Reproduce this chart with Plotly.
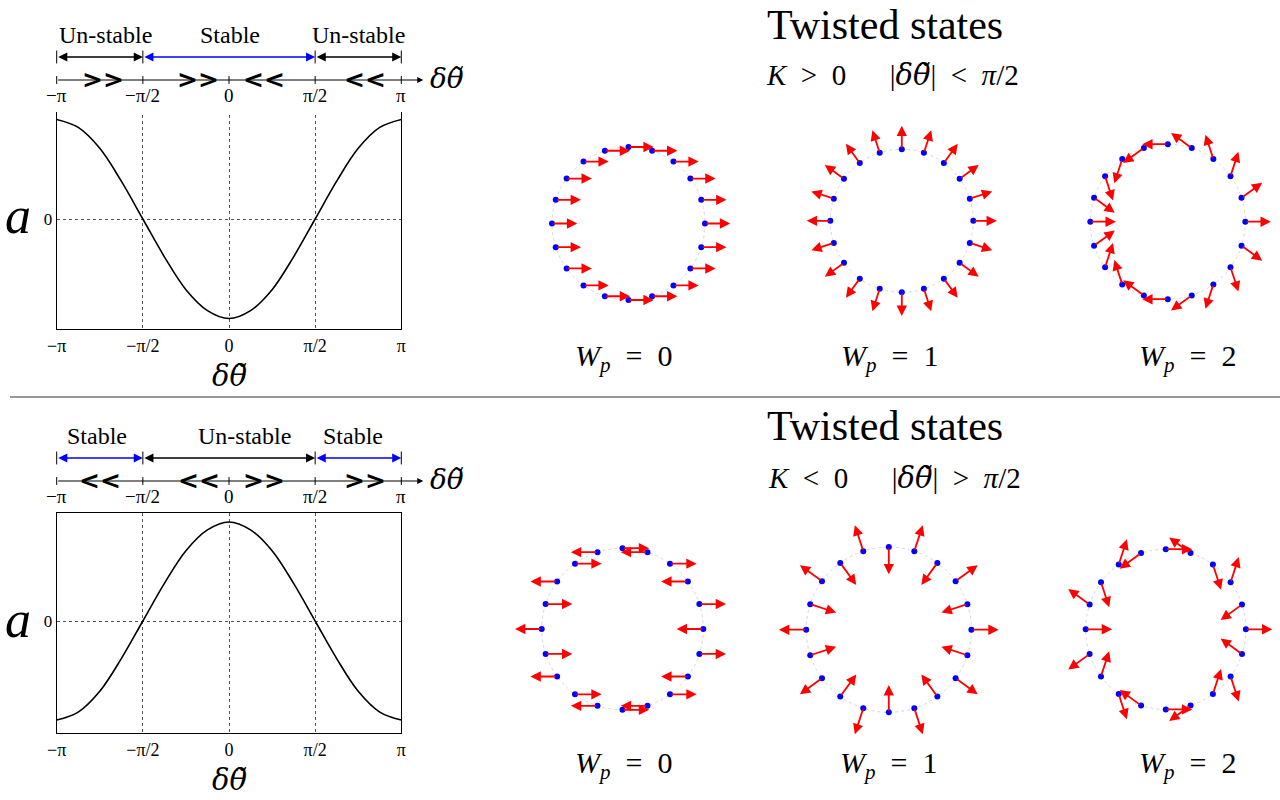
import math
import plotly.graph_objects as go

PI = math.pi

# ---------------- data ----------------
tick_vals = [-PI, -PI / 2, 0.0, PI / 2, PI]
tick_text = ["−π", "−π/2", "0", "π/2", "π"]

curve_dtheta = [-PI, -7 * PI / 8, -3 * PI / 4, -5 * PI / 8, -PI / 2, -3 * PI / 8, -PI / 4, -PI / 8, 0.0,
                PI / 8, PI / 4, 3 * PI / 8, PI / 2, 5 * PI / 8, 3 * PI / 4, 7 * PI / 8, PI]
a_top = [1.00, 0.92, 0.71, 0.38, 0.00, -0.38, -0.71, -0.92, -1.00,
         -0.92, -0.71, -0.38, 0.00, 0.38, 0.71, 0.92, 1.00]
a_bottom = [-1.00, -0.92, -0.71, -0.38, 0.00, 0.38, 0.71, 0.92, 1.00,
            0.92, 0.71, 0.38, 0.00, -0.38, -0.71, -0.92, -1.00]

region_bounds = [(-PI, -PI / 2), (-PI / 2, PI / 2), (PI / 2, PI)]
regions_top = ["Un-stable", "Stable", "Un-stable"]
regions_top_color = ["black", "blue", "black"]
regions_bottom = ["Stable", "Un-stable", "Stable"]
regions_bottom_color = ["blue", "black", "blue"]

flow_top = [">>", ">>", "<<", "<<"]
flow_bottom = ["<<", "<<", ">>", ">>"]

# oscillator positions on the ring (degrees)
osc_pos_deg = [0, 18, 36, 54, 72, 90, 108, 126, 144, 162,
               180, 198, 216, 234, 252, 270, 288, 306, 324, 342]
# phase (arrow direction, degrees) of each oscillator
phase_top_w0 = [0, 0, 0, 0, 0, 0, 0, 0, 0, 0,
                0, 0, 0, 0, 0, 0, 0, 0, 0, 0]
phase_top_w1 = [0, 18, 36, 54, 72, 90, 108, 126, 144, 162,
                180, 198, 216, 234, 252, 270, 288, 306, 324, 342]
phase_top_w2 = [0, 36, 72, 108, 144, 180, 216, 252, 288, 324,
                0, 36, 72, 108, 144, 180, 216, 252, 288, 324]
phase_bot_w0 = [180, 0, 180, 0, 180, 0, 180, 0, 180, 0,
                180, 0, 180, 0, 180, 0, 180, 0, 180, 0]
phase_bot_w1 = [0, 198, 36, 234, 72, 270, 108, 306, 144, 342,
                180, 18, 216, 54, 252, 90, 288, 126, 324, 162]
phase_bot_w2 = [0, 216, 72, 288, 144, 0, 216, 72, 288, 144,
                0, 216, 72, 288, 144, 0, 216, 72, 288, 144]
winding_labels = ["0", "1", "2"]

# ---------------- layout helpers ----------------
W, H = 1280, 800
SERIF = "Liberation Serif"
MATH = "DejaVu Serif"
DTH = "<i>δθ\u0303</i>"
EN = "\u2002"


def xd(px):
    return px / W


def yd(px):
    return 1 - px / H


fig = go.Figure()
layout = dict(width=W, height=H, margin=dict(l=0, r=0, t=0, b=0, pad=0, autoexpand=False),
              paper_bgcolor="white", plot_bgcolor="white", showlegend=False,
              font=dict(family=SERIF, color="black"))
annotations = []
shapes = []


def paper_text(xpx, ypx, text, size, family=SERIF, yanchor="middle"):
    annotations.append(dict(x=xd(xpx), y=yd(ypx), xref="paper", yref="paper", text=text,
                            showarrow=False, xanchor="center", yanchor=yanchor,
                            font=dict(family=family, size=size, color="black")))


BOX_L, BOX_R = 56.7, 401.3
S = (BOX_R - BOX_L) / (2 * PI)  # px per radian
CX0 = (BOX_L + BOX_R) / 2


def main_panel(idx, top_px, bot_px, yrange, a_vals):
    xa, ya = "xaxis%d" % idx, "yaxis%d" % idx
    layout[xa] = dict(domain=[xd(BOX_L), xd(BOX_R)], range=[-PI, PI], anchor="y%d" % idx,
                      tickvals=tick_vals, ticktext=tick_text, ticks="", automargin=False,
                      tickfont=dict(family=SERIF, size=18), showgrid=True,
                      gridcolor="#555", griddash="dot", gridwidth=1, zeroline=False,
                      showline=True, mirror=True, linecolor="black", linewidth=1)
    layout[ya] = dict(domain=[yd(bot_px), yd(top_px)], range=yrange, anchor="x%d" % idx,
                      tickvals=[0], ticktext=["0"], ticks="", automargin=False,
                      tickfont=dict(family=SERIF, size=17), showgrid=True,
                      gridcolor="#555", griddash="dot", gridwidth=1, zeroline=False,
                      showline=True, mirror=True, linecolor="black", linewidth=1)
    fig.add_trace(go.Scatter(x=curve_dtheta, y=a_vals, mode="lines",
                             line=dict(color="black", width=1.6, shape="spline", smoothing=1.0),
                             xaxis="x%d" % idx, yaxis="y%d" % idx, hoverinfo="skip"))
    mid = (top_px + bot_px) / 2
    paper_text(18, mid - 4, "<i>a</i>", 52)
    paper_text(CX0, bot_px + 47, DTH, 29, MATH)


def numline_panel(idx, line_px, labels, colors, label_px, flows, flow_px):
    UNIT = 23.0
    top, bot = line_px - 62, line_px + 32
    x0px, x1px = 20, 480
    xr = [-PI - (BOX_L - x0px) / S, PI + (x1px - BOX_R) / S]
    yr = [-(bot - line_px) / UNIT, (line_px - top) / UNIT]
    xs, ys = "x%d" % idx, "y%d" % idx
    layout["xaxis%d" % idx] = dict(domain=[xd(x0px), xd(x1px)], range=xr, anchor=ys, visible=False,
                                   automargin=False)
    layout["yaxis%d" % idx] = dict(domain=[yd(bot), yd(top)], range=yr, anchor=xs, visible=False,
                                   automargin=False)
    # main axis line with arrow
    annotations.append(dict(x=PI + 0.40, y=0, ax=-PI, ay=0, xref=xs, yref=ys, axref=xs, ayref=ys,
                            text="", showarrow=True, arrowhead=2, arrowsize=1.2, arrowwidth=1.0,
                            arrowcolor="black", standoff=0))
    tx, ty = [], []
    for v in tick_vals:
        tx += [v, v, None]
        ty += [-0.17, 0.17, None]
    for b in [region_bounds[0][0], region_bounds[0][1], region_bounds[2][0], region_bounds[2][1]]:
        tx += [b, b, None]
        ty += [1 - 0.28, 1 + 0.28, None]
    fig.add_trace(go.Scatter(x=tx, y=ty, mode="lines", line=dict(color="black", width=1),
                             xaxis=xs, yaxis=ys, hoverinfo="skip"))
    for v, t in zip(tick_vals, tick_text):
        annotations.append(dict(x=v, y=-0.15, xref=xs, yref=ys, text=t, showarrow=False,
                                yanchor="top", xanchor="center", font=dict(family=SERIF, size=19)))
    annotations.append(dict(x=PI + 0.84, y=0.05, xref=xs, yref=ys, text=DTH, showarrow=False,
                            xanchor="center", font=dict(family=MATH, size=28)))
    for (b0, b1), lab, col, lpx in zip(region_bounds, labels, colors, label_px):
        annotations.append(dict(x=b1, y=1, ax=b0, ay=1, xref=xs, yref=ys, axref=xs, ayref=ys,
                                text="", showarrow=True, arrowside="end+start",
                                arrowhead=2, startarrowhead=2, arrowsize=1.3, startarrowsize=1.3,
                                arrowwidth=1.4, arrowcolor=col, standoff=0, startstandoff=0))
        annotations.append(dict(x=(lpx - CX0) / S, y=1.95, xref=xs, yref=ys, text=lab, showarrow=False,
                                xanchor="center", font=dict(family=SERIF, size=24)))
    for f, fpx in zip(flows, flow_px):
        annotations.append(dict(x=(fpx - CX0) / S, y=0.03, xref=xs, yref=ys,
                                text="<b>" + f.replace(">", "&gt;").replace("<", "&lt;") + "</b>",
                                showarrow=False, xanchor="center",
                                font=dict(family="DejaVu Sans", size=25)))


def ring_panel(idx, cx, cy, R, phases, label, label_px):
    HF = 1.4
    half = HF * R
    xs, ys = "x%d" % idx, "y%d" % idx
    layout["xaxis%d" % idx] = dict(domain=[xd(cx - half), xd(cx + half)], range=[-HF, HF],
                                   anchor=ys, visible=False, automargin=False)
    layout["yaxis%d" % idx] = dict(domain=[yd(cy + half), yd(cy - half)], range=[-HF, HF],
                                   anchor=xs, visible=False, automargin=False)
    shapes.append(dict(type="circle", xref=xs, yref=ys, x0=-1, x1=1, y0=-1, y1=1,
                       line=dict(color="#d8d8d8", width=1, dash="dot"), layer="below"))
    px_, py_ = [], []
    L = 0.33
    for p, ph in zip(osc_pos_deg, phases):
        x = math.cos(math.radians(p))
        y = math.sin(math.radians(p))
        px_.append(x)
        py_.append(y)
        annotations.append(dict(x=x + L * math.cos(math.radians(ph)), y=y + L * math.sin(math.radians(ph)),
                                ax=x, ay=y, xref=xs, yref=ys, axref=xs, ayref=ys, text="",
                                showarrow=True, arrowhead=2, arrowsize=1.15, arrowwidth=1.8,
                                arrowcolor="#ff0000", standoff=0))
    fig.add_trace(go.Scatter(x=px_, y=py_, mode="markers", marker=dict(color="#0000ff", size=6),
                             xaxis=xs, yaxis=ys, hoverinfo="skip", cliponaxis=False))
    paper_text(label_px[0], label_px[1], "<i>W<sub>p</sub></i>" + EN + "=" + EN + label, 30)


def subtitle(xpx, ypx, rel1, rel2):
    txt = ("<i>K</i>" + EN + rel1 + EN + "0" + EN + EN + EN +
           '|<span style="font-family:DejaVu Serif"><i>δθ\u0303</i></span>|' + EN + rel2 + EN + "<i>π</i>/2")
    paper_text(xpx, ypx, txt, 29)


# ---------------- top row (K > 0) ----------------
main_panel(1, 109, 329, [-1.105, 1.105], a_top)
numline_panel(2, 80, regions_top, regions_top_color, [105, 230, 358], flow_top, [103, 198, 264, 365])
ring_panel(5, 628.5, 223.5, 76.5, phase_top_w0, winding_labels[0], (623, 358))
ring_panel(6, 901.8, 220.8, 71.5, phase_top_w1, winding_labels[1], (889, 358))
ring_panel(7, 1167.8, 221.7, 77.5, phase_top_w2, winding_labels[2], (1187, 358))
paper_text(885, 0, "Twisted states", 42, yanchor="top")
subtitle(892, 75, "&gt;", "&lt;")

# separator
shapes.append(dict(type="line", xref="paper", yref="paper", x0=xd(10), x1=1.0, y0=yd(397), y1=yd(397),
                   line=dict(color="#777777", width=1.5)))

# ---------------- bottom row (K < 0) ----------------
main_panel(3, 513.3, 733.3, [-1.134, 1.088], a_bottom)
numline_panel(4, 481, regions_bottom, regions_bottom_color, [97, 244, 353], flow_bottom, [100, 199, 264, 365])
ring_panel(8, 622.5, 629.0, 80.8, phase_bot_w0, winding_labels[0], (623, 765))
ring_panel(9, 888.8, 629.7, 82.6, phase_bot_w1, winding_labels[1], (888, 765))
ring_panel(10, 1165.8, 629.3, 80.1, phase_bot_w2, winding_labels[2], (1187, 765))
paper_text(885, 401, "Twisted states", 42, yanchor="top")
subtitle(894, 478, "&lt;", "&gt;")

layout["annotations"] = annotations
layout["shapes"] = shapes
fig.update_layout(**layout)
fig.write_html("out.html")
